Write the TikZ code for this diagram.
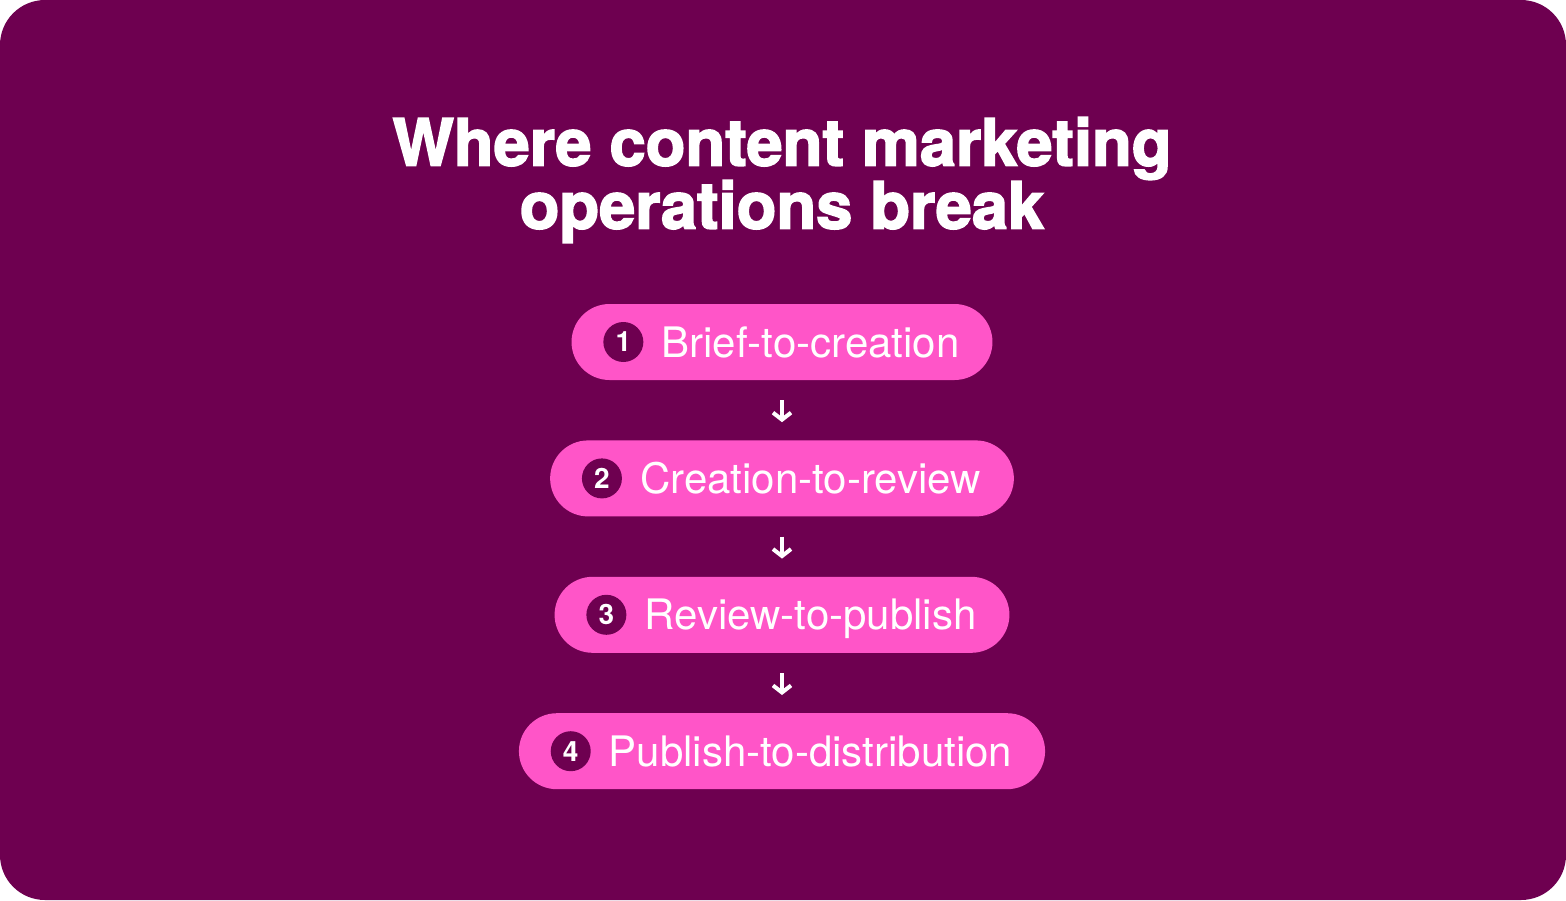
\documentclass[tikz,border=0pt]{standalone}
\usepackage{fontspec}
\setmainfont{TeX Gyre Heros}
\newfontfamily\titlefont[BoldFeatures={FakeBold=2.5}]{TeX Gyre Heros}
\usetikzlibrary{arrows.meta}
\usetikzlibrary{positioning}

\definecolor{plum}{HTML}{6E0050}
\definecolor{candy}{HTML}{FF55C8}

\tikzset{
  stage/.style={fill=candy,text=white,rounded corners=38pt,minimum height=76pt,
    inner xsep=33pt,inner ysep=0pt,text height=30pt,text depth=0pt,
    font=\fontsize{42}{42}\selectfont},
  badge/.style={circle,fill=plum,text=white,minimum size=40pt,inner sep=0pt,
    font=\fontsize{28}{28}\selectfont\bfseries},
  flow/.style={draw=white,line width=4pt,-{Straight Barb[length=7pt,width=18pt]}}
}

\begin{document}
\begin{tikzpicture}[x=1pt,y=-1pt]

  \useasboundingbox (0,0) rectangle (1566,900);
  \fill [plum,rounded corners=45pt] (0,0) rectangle (1566,900);

  \node [text=white,align=center,inner sep=0pt,
    font=\titlefont\bfseries\fontsize{65}{63}\selectfont] (title) at (782,180)
    {Where content marketing\\operations break};

  \node [stage] (brief) at (782,342) {\hspace*{57pt}Brief-to-creation};
  \node [stage,below=60pt of brief] (creation) {\hspace*{57pt}Creation-to-review};
  \node [stage,below=60pt of creation] (review) {\hspace*{57pt}Review-to-publish};
  \node [stage,below=60pt of review] (publish) {\hspace*{57pt}Publish-to-distribution};

  \node [badge] (brief_num) at ([xshift=52pt]brief.west) {1};
  \node [badge] (creation_num) at ([xshift=52pt]creation.west) {2};
  \node [badge] (review_num) at ([xshift=52pt]review.west) {3};
  \node [badge] (publish_num) at ([xshift=52pt]publish.west) {4};

  \draw [flow] ([yshift=-20pt]brief.south) -- ([yshift=18pt]creation.north);
  \draw [flow] ([yshift=-20pt]creation.south) -- ([yshift=18pt]review.north);
  \draw [flow] ([yshift=-20pt]review.south) -- ([yshift=18pt]publish.north);

\end{tikzpicture}
\end{document}
